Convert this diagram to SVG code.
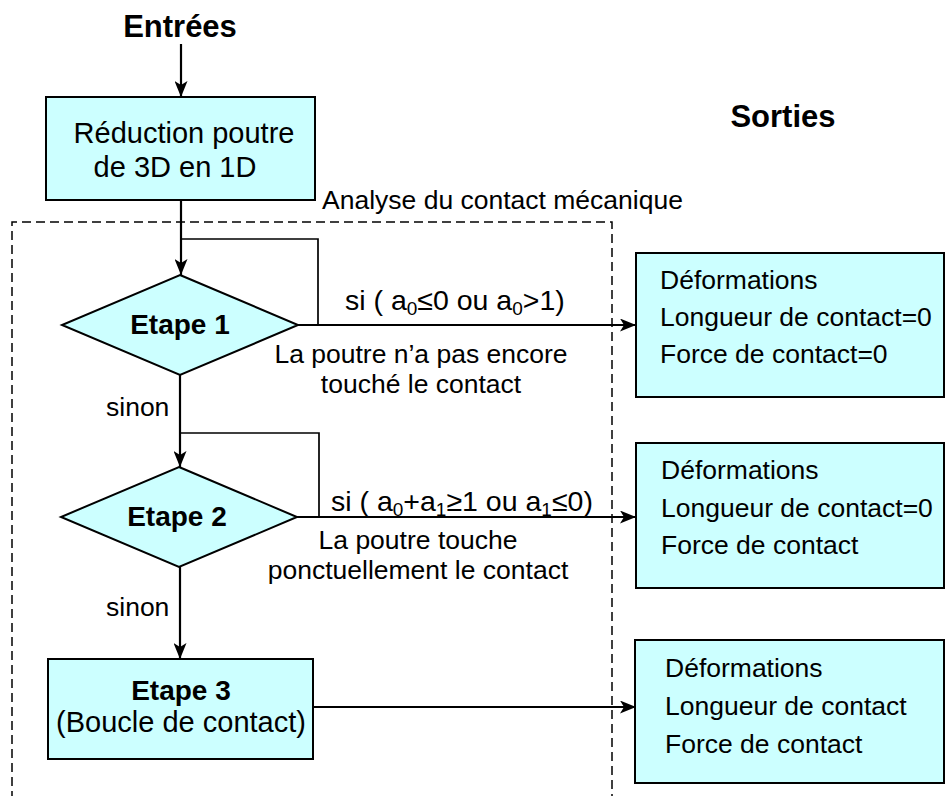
<svg xmlns="http://www.w3.org/2000/svg" width="945" height="796" viewBox="0 0 945 796">
<style>
  text { font-family: "Liberation Sans", Arial, sans-serif; fill: #000; }
  .title { font-size: 31px; font-weight: bold; }
  .step { font-size: 28px; font-weight: bold; }
  .big { font-size: 29px; }
  .si { font-size: 28.5px; }
  .lbl { font-size: 26.5px; }
  .mid { text-anchor: middle; }
  .box { fill: #CCFFFF; stroke: #000; stroke-width: 2; }
  .conn { fill: none; stroke: #000; stroke-width: 2.2; }
  .loop { fill: none; stroke: #000; stroke-width: 1.7; }
  .dash { fill: none; stroke: #000; stroke-width: 1.5; stroke-dasharray: 9 5; }
</style>
<defs>
  <marker id="arr" viewBox="0 0 16 13" refX="16" refY="6.5" markerWidth="16" markerHeight="13" markerUnits="userSpaceOnUse" orient="auto">
    <path d="M0,0 L16,6.5 L0,13 L4,6.5 Z" fill="#000"/>
  </marker>
</defs>
<rect width="945" height="796" fill="#fff"/>

<g id="analysis-frame">
  <path class="dash" d="M12,800 V222 H612 V800"/>
  <text class="lbl" x="322" y="209">Analyse du contact mécanique</text>
</g>

<g id="title-in"><text class="title mid" x="180" y="37">Entrées</text></g>
<g id="title-out"><text class="title mid" x="783" y="127">Sorties</text></g>

<g id="connectors">
  <path class="conn" d="M181,44 V97" marker-end="url(#arr)"/>
  <path class="conn" d="M181,200 V275" marker-end="url(#arr)"/>
  <path class="loop" d="M181,239 H318 V325"/>
  <path class="conn" d="M298,325 H636" marker-end="url(#arr)"/>
  <path class="conn" d="M180,375 V467" marker-end="url(#arr)"/>
  <path class="loop" d="M180,433 H319 V517"/>
  <path class="conn" d="M297,517 H636" marker-end="url(#arr)"/>
  <path class="conn" d="M180,567 V659" marker-end="url(#arr)"/>
  <path class="conn" d="M313,707 H636" marker-end="url(#arr)"/>
  <text class="si" x="345" y="310">si ( a<tspan font-size="19" dy="5">0</tspan><tspan dy="-5">≤0 ou a</tspan><tspan font-size="19" dy="5">0</tspan><tspan dy="-5">&gt;1)</tspan></text>
  <text class="lbl mid" x="421" y="363">La poutre n’a pas encore</text>
  <text class="lbl mid" x="421" y="393">touché le contact</text>
  <text class="lbl" x="106" y="416">sinon</text>
  <text class="si" x="331" y="511">si ( a<tspan font-size="19" dy="5">0</tspan><tspan dy="-5">+a</tspan><tspan font-size="19" dy="5">1</tspan><tspan dy="-5">≥1 ou a</tspan><tspan font-size="19" dy="5">1</tspan><tspan dy="-5">≤0)</tspan></text>
  <text class="lbl mid" x="418" y="549">La poutre touche</text>
  <text class="lbl mid" x="418" y="579">ponctuellement le contact</text>
  <text class="lbl" x="106" y="616">sinon</text>
</g>

<g id="reduction">
  <rect class="box" x="46" y="97" width="269" height="103"/>
  <text class="big mid" x="184" y="143">Réduction poutre</text>
  <text class="big mid" x="175" y="177">de 3D en 1D</text>
</g>

<g id="etape1">
  <polygon class="box" points="180,275 298,325 180,375 62,325"/>
  <text class="step mid" x="180" y="334">Etape 1</text>
</g>

<g id="etape2">
  <polygon class="box" points="179,467 297,517 179,567 61,517"/>
  <text class="step mid" x="177" y="526">Etape 2</text>
</g>

<g id="etape3">
  <rect class="box" x="48" y="659" width="265" height="100"/>
  <text class="step mid" x="181" y="700">Etape 3</text>
  <text class="big mid" x="181" y="732">(Boucle de contact)</text>
</g>

<g id="sortie1">
  <rect class="box" x="636" y="253" width="308" height="144"/>
  <text class="lbl" x="660" y="289">Déformations</text>
  <text class="lbl" x="660" y="326">Longueur de contact=0</text>
  <text class="lbl" x="660" y="363">Force de contact=0</text>
</g>

<g id="sortie2">
  <rect class="box" x="636" y="443" width="308" height="145"/>
  <text class="lbl" x="661" y="479">Déformations</text>
  <text class="lbl" x="661" y="517">Longueur de contact=0</text>
  <text class="lbl" x="661" y="554">Force de contact</text>
</g>

<g id="sortie3">
  <rect class="box" x="635" y="640" width="309" height="143"/>
  <text class="lbl" x="665" y="677">Déformations</text>
  <text class="lbl" x="665" y="715">Longueur de contact</text>
  <text class="lbl" x="665" y="753">Force de contact</text>
</g>
</svg>
